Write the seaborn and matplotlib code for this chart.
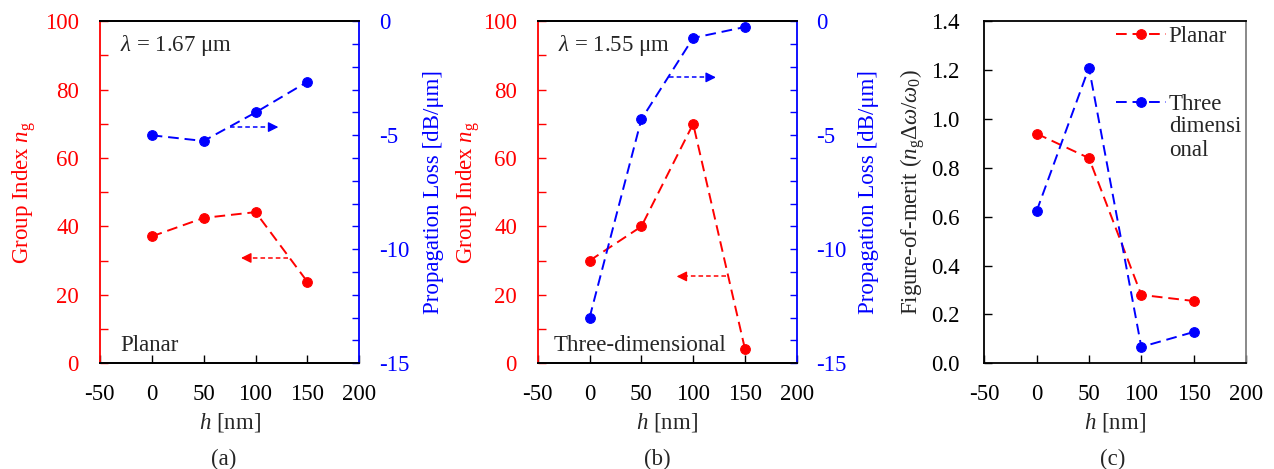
import numpy as np
import pandas as pd
import matplotlib
matplotlib.use("Agg")
import matplotlib.pyplot as plt
import seaborn as sns
from matplotlib.ticker import MultipleLocator, FormatStrFormatter

# ---------------- data ----------------
h_nm = [0, 50, 100, 150]

# (a) Planar, lambda = 1.67 um
ng_planar = [37.1, 42.5, 44.2, 23.8]
loss_planar = [-5.0, -5.25, -4.0, -2.65]

# (b) Three-dimensional, lambda = 1.55 um
ng_3d = [30.0, 40.0, 70.0, 4.2]
loss_3d = [-13.0, -4.3, -0.73, -0.25]

# (c) Figure of merit
fom_planar = [0.94, 0.84, 0.28, 0.255]
fom_3d = [0.623, 1.21, 0.067, 0.128]

# arrow annotations: (tail_x, head_x, y)
arrow_a_red = (131, 86, 30.8)
arrow_a_blue = (75, 122, -4.64)
arrow_b_red = (132, 84, 25.4)
arrow_b_blue = (77, 122, -2.46)

RED = "#FF0000"
BLUE = "#0000FF"
FS = 16.5

sns.set_style("white")
plt.rcParams["font.family"] = ["Liberation Serif", "DejaVu Serif"]
plt.rcParams["mathtext.fontset"] = "custom"
plt.rcParams["mathtext.rm"] = "Liberation Serif"
plt.rcParams["mathtext.it"] = "Liberation Serif:italic"
plt.rcParams["mathtext.bf"] = "Liberation Serif:bold"
plt.rcParams["axes.unicode_minus"] = False

W, H = 1274, 469
fig = plt.figure(figsize=(W / 100, H / 100), dpi=100)

bottom, height = 0.2254, 0.7292
pos = [(0.0783, 0.2038), (0.4221, 0.2033), (0.7726, 0.2054)]

DASH = (0, (5.5, 3))
LW = 1.4
MS = 7


def line(ax, x, y, color, label=None):
    df = pd.DataFrame({"h": x, "v": y})
    sns.lineplot(data=df, x="h", y="v", ax=ax, color=color, marker="o",
                 markersize=MS, markeredgecolor=color, linestyle=DASH,
                 linewidth=LW, label=label, legend=False)


def arrow(ax, spec, color):
    tail, head, y = spec
    ax.plot([tail, head + (3 if head < tail else -3)], [y, y], color=color,
            linestyle=(0, (3, 2)), lw=1.1)
    d = -1 if head < tail else 1
    ax.annotate("", xy=(head, y), xytext=(head - d * 6, y),
                arrowprops=dict(arrowstyle="-|>,head_length=0.6,head_width=0.3",
                                color=color, lw=1.0, shrinkA=0, shrinkB=0))


def style_xaxis(ax):
    ax.set_xlim(-50, 200)
    ax.xaxis.set_major_locator(MultipleLocator(50))
    ax.set_xlabel("$h$ [nm]", fontsize=FS, labelpad=4)
    ax.tick_params(axis="x", direction="in", length=6, width=1.0,
                   labelsize=FS, pad=15, colors="black", bottom=True)


def dual_panel(ax_pos, ng, loss, arr_red, arr_blue, wl_text, kind_text, kind_x,
               lpad, rpad):
    ax = fig.add_axes([ax_pos[0], bottom, ax_pos[1], height])
    line(ax, h_nm, ng, RED)
    ax.set_ylim(0, 100)
    ax.yaxis.set_major_locator(MultipleLocator(20))
    ax.yaxis.set_minor_locator(MultipleLocator(10))
    ax.tick_params(axis="y", which="both", direction="in", length=6, width=1.0,
                   colors=RED, labelsize=FS, pad=15, left=True)
    ax.set_ylabel("Group Index $n_\\mathrm{g}$", color=RED, fontsize=FS,
                  labelpad=lpad)
    style_xaxis(ax)
    arrow(ax, arr_red, RED)
    ax.text(-30.4, 93, wl_text, fontsize=FS, va="center", ha="left")
    ax.text(kind_x, 5.3, kind_text, fontsize=FS, va="center", ha="left")

    tw = ax.twinx()
    line(tw, h_nm, loss, BLUE)
    tw.set_ylim(-15, 0)
    tw.yaxis.set_major_locator(MultipleLocator(5))
    tw.yaxis.set_minor_locator(MultipleLocator(1))
    tw.yaxis.set_major_formatter(FormatStrFormatter("%d"))
    tw.tick_params(axis="y", which="both", direction="in", length=5, width=1.0,
                   colors=BLUE, labelsize=FS, pad=14, right=True)
    tw.set_ylabel("Propagation Loss [dB/\u03bcm]", color=BLUE, fontsize=FS,
                  labelpad=rpad)
    arrow(tw, arr_blue, BLUE)

    for a in (ax, tw):
        for s in a.spines.values():
            s.set_linewidth(1.3)
        a.set_xlim(-50, 200)
    ax.spines["left"].set_color(RED)
    ax.spines["right"].set_visible(False)
    tw.spines["left"].set_visible(False)
    tw.spines["right"].set_color(BLUE)
    for a in (ax, tw):
        a.spines["top"].set_color("black")
        a.spines["bottom"].set_color("black")
    return ax, tw


dual_panel(pos[0], ng_planar, loss_planar, arrow_a_red, arrow_a_blue,
           "$\\lambda$ = 1.67 \u03bcm", "Planar", -30.4, 5, 10)
dual_panel(pos[1], ng_3d, loss_3d, arrow_b_red, arrow_b_blue,
           "$\\lambda$ = 1.55 \u03bcm", "Three-dimensional", -35, 1, 8)

# (c)
axc = fig.add_axes([pos[2][0], bottom, pos[2][1], height])
line(axc, h_nm, fom_planar, RED, "Planar")
line(axc, h_nm, fom_3d, BLUE, "Three")
axc.set_ylim(0, 1.4)
axc.yaxis.set_major_locator(MultipleLocator(0.2))
axc.yaxis.set_major_formatter(FormatStrFormatter("%.1f"))
axc.tick_params(axis="y", direction="in", length=6, width=1.0, labelsize=FS,
                pad=18, left=True, colors="black")
axc.set_ylabel("Figure-of-merit ($n_\\mathrm{g}\\Delta\\omega/\\omega_0$)",
               fontsize=FS, labelpad=3)
style_xaxis(axc)
for s in axc.spines.values():
    s.set_linewidth(1.3)
    s.set_color("black")
axc.spines["right"].set_color("#808080")
leg = axc.legend(loc="upper right", bbox_to_anchor=(0.963, 1.012), frameon=False,
                 fontsize=FS, handlelength=2.2, handletextpad=0.1,
                 labelspacing=2.05, borderaxespad=0.0)

for txt, x in (("(a)", 224), ("(b)", 657), ("(c)", 1113)):
    fig.text(x / W, 1 - 459 / H, txt, fontsize=FS, ha="center", va="center")

# continuation lines of the second legend label
fig.canvas.draw()
bb = leg.get_texts()[1].get_window_extent()
fig.text(bb.x0 / W, (bb.y0 - 1) / H, "dimensi\nonal", fontsize=FS,
         ha="left", va="top", linespacing=1.15)

fig.savefig("out.png", dpi=100)
